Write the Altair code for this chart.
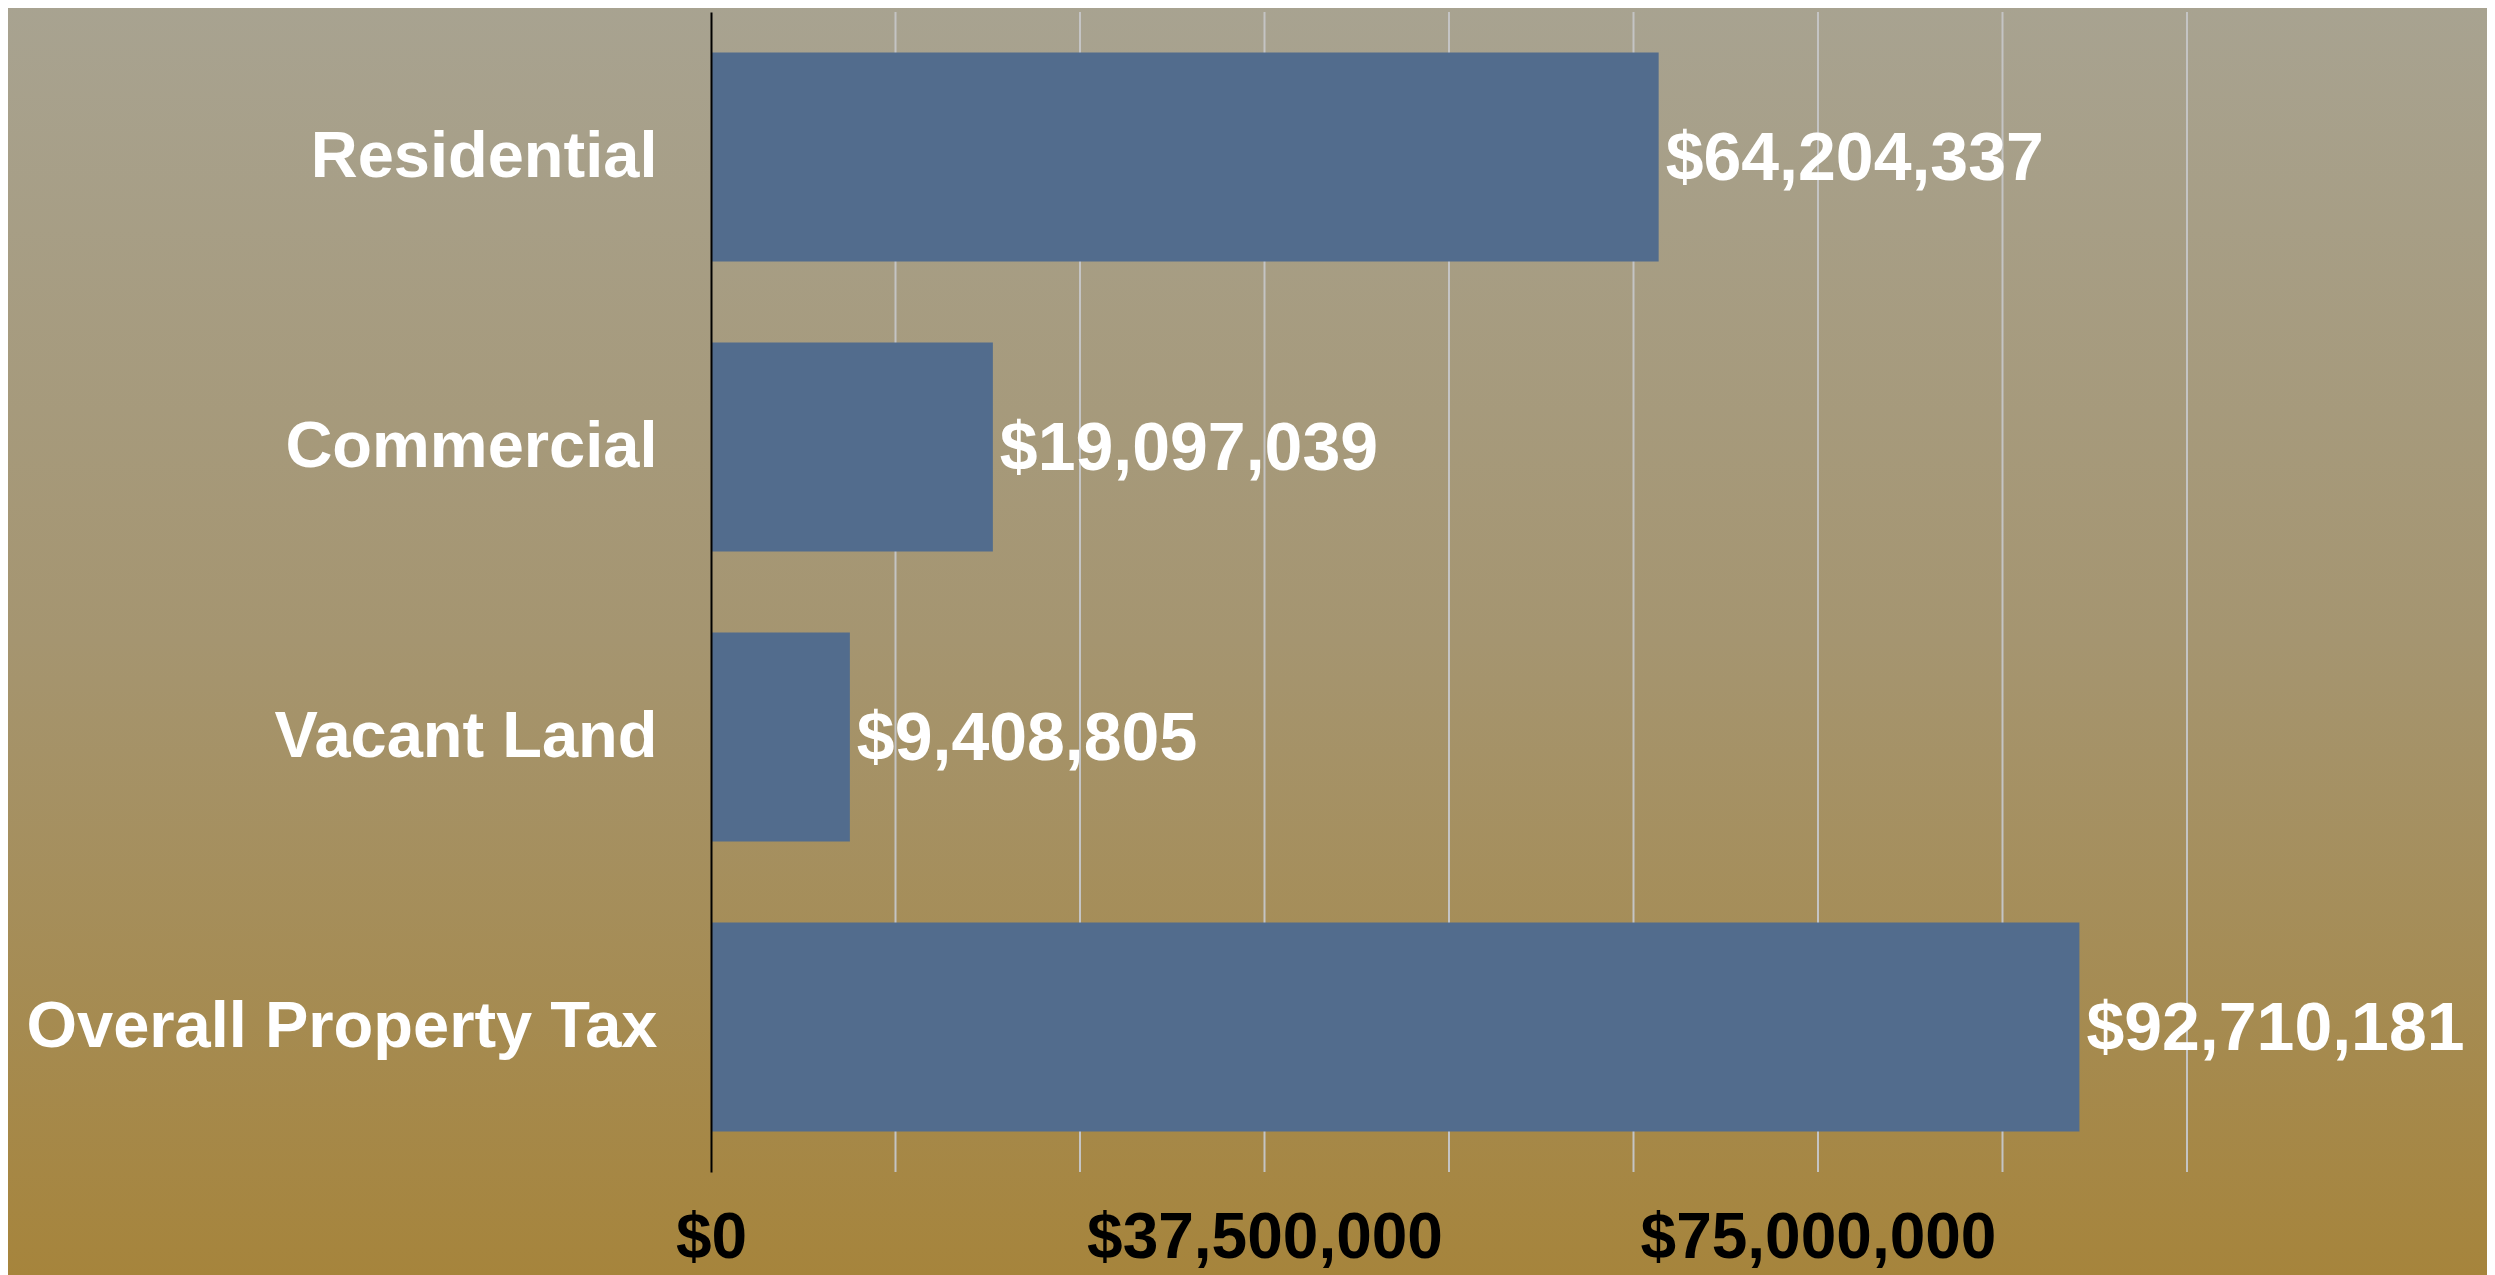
import altair as alt
import pandas as pd

categories = ["Residential", "Commercial", "Vacant Land", "Overall Property Tax"]
values = [64204337, 19097039, 9408805, 92710181]
value_labels = ["$64,204,337", "$19,097,039", "$9,408,805", "$92,710,181"]
grid_values = [12500000, 25000000, 37500000, 50000000, 62500000, 75000000, 87500000, 100000000]
tick_values = [0, 12500000, 25000000, 37500000, 50000000, 62500000, 75000000, 87500000, 100000000]

df = pd.DataFrame({"category": categories, "value": values, "label": value_labels})
grid_df = pd.DataFrame({"g": grid_values})

W, H = 1476, 1160
PL, PT, PR, PB = 703, 4, 300, 103

x_scale = alt.Scale(domain=[0, 100000000], nice=False, zero=True)
y_scale = alt.Scale(domain=categories, paddingInner=0.28, paddingOuter=0.14)

gradient = alt.Gradient(
    gradient="linear",
    x1=0, x2=0, y1=0, y2=1,
    stops=[
        alt.GradientStop(color="#a8a391", offset=0),
        alt.GradientStop(color="#a59570", offset=0.5),
        alt.GradientStop(color="#a6843b", offset=1),
    ],
)

bg = alt.Chart(pd.DataFrame({"k": [0]})).mark_rect(color=gradient).encode(
    x=alt.value(-PL - 10), x2=alt.value(W + PR + 10),
    y=alt.value(-PT - 10), y2=alt.value(H + PB + 10),
)

grid = alt.Chart(grid_df).mark_rule(color="#c4c4c4", strokeWidth=2).encode(
    x=alt.X("g:Q", scale=x_scale),
)

bars = alt.Chart(df).mark_bar(color="#526c8d").encode(
    x=alt.X(
        "value:Q", scale=x_scale,
        axis=alt.Axis(
            values=tick_values, grid=False, domain=False, ticks=False,
            labelExpr="datum.value % 37500000 == 0 ? '$' + format(datum.value, ',') : ''",
            labelFont="Liberation Sans", labelFontWeight="bold", labelFontSize=64,
            labelColor="black", labelPadding=34, labelFlush=False, labelOverlap=False,
            labelLimit=0, title=None, zindex=1,
        ),
    ),
    y=alt.Y(
        "category:N", scale=y_scale, sort=categories,
        axis=alt.Axis(
            grid=False, ticks=False, domain=True, domainColor="black", domainWidth=2,
            labelFont="Liberation Sans", labelFontWeight="bold", labelFontSize=65,
            labelColor="white", labelPadding=54, title=None, zindex=1, labelLimit=0,
        ),
    ),
)

text = alt.Chart(df).mark_text(
    align="left", baseline="middle", dx=7, dy=3,
    font="Liberation Sans", fontWeight="bold", fontSize=68, color="white",
).encode(
    x=alt.X("value:Q", scale=x_scale),
    y=alt.Y("category:N", scale=y_scale, sort=categories),
    text="label:N",
)

chart = alt.layer(bg, grid, bars, text).properties(
    width=W, height=H,
    padding={"left": PL, "top": PT, "right": PR, "bottom": PB},
    autosize=alt.AutoSizeParams(type="none"),
).configure_view(strokeWidth=0).configure(background="#a6843b")

chart.save("out.html", embed_options={"renderer": "svg", "actions": False})
